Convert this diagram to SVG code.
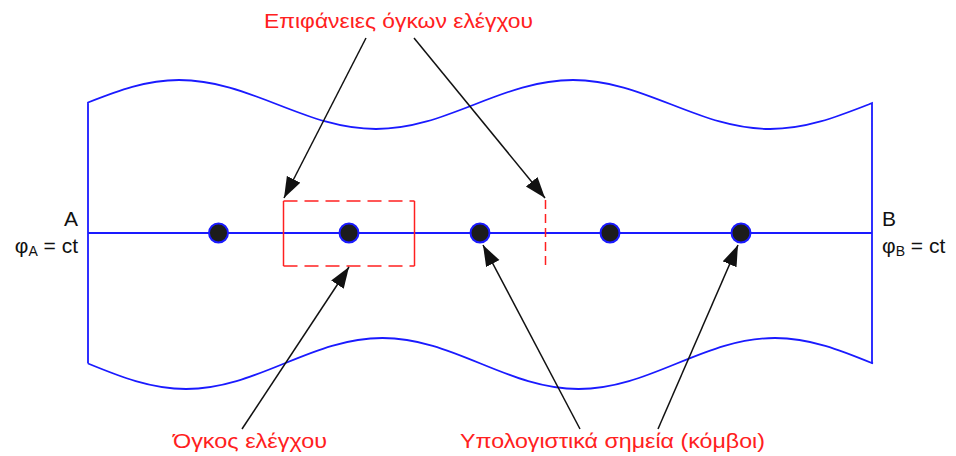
<svg xmlns="http://www.w3.org/2000/svg" width="956" height="456" viewBox="0 0 956 456">
<style>
.blue{fill:none;stroke:#1a1aff;stroke-width:1.8}
.node circle{fill:#1c1c1c;stroke:#1a1aff;stroke-width:2}
.red{fill:none;stroke:#ff2020;stroke-width:1.5}
.arr{fill:none;stroke:#111;stroke-width:1.5;marker-end:url(#ah)}
.lbl{font-family:"Liberation Sans",Arial,sans-serif;font-size:21px;fill:#111}
.ann{font-family:"Liberation Sans",Arial,sans-serif;font-size:21px;fill:#ff2020}
</style>
<defs>
<marker id="ah" markerUnits="userSpaceOnUse" markerWidth="22" markerHeight="16" refX="21" refY="7.5" orient="auto">
<path d="M0,0 L21,7.5 L0,15 z" fill="#111"/>
</marker>
</defs>
<g id="domain">
<path class="blue" d="M88,363.5 L88,102.5 C117.7,90.9 146,80 179,80 C214.6,80 245.4,91.95 277.5,104.5 C309.6,117.05 340.35,129 376,129 C411.65,129 442.4,117.05 474.5,104.5 C506.6,91.95 537.35,80 573,80 C608.65,80 639.4,91.95 671.5,104.5 C703.6,117.05 734.35,129 770,129 C805.65,129 836.4,117.05 868.5,104.5 L872,103 L872,363.5"/>
<path class="blue" d="M88,363.5 C120,376.6 150.6,389 186.1,389 C221.6,389 252.2,376.6 284.25,363.5 C316.25,350.4 346.85,338 382.4,338 C417.9,338 448.5,350.4 480.5,363.5 C512.5,376.6 543.1,389 578.6,389 C614.1,389 644.7,376.6 676.75,363.5 C708.75,350.4 739.35,338 774.9,338 C810.4,338 841,350.4 873,363.5"/>
<line class="blue" x1="88" y1="233" x2="872" y2="233"/>
</g>
<g id="labelA">
<text class="lbl" x="78" y="226" text-anchor="end">A</text>
<text class="lbl" x="78" y="253" text-anchor="end">φ<tspan font-size="14" dy="3">A</tspan><tspan dy="-3"> = ct</tspan></text>
</g>
<g id="labelB">
<text class="lbl" x="882" y="226">B</text>
<text class="lbl" x="882" y="253">φ<tspan font-size="14" dy="3">B</tspan><tspan dy="-3"> = ct</tspan></text>
</g>
<g id="control-volume">
<line class="red" x1="283.5" y1="201" x2="283.5" y2="266"/>
<line class="red" x1="414.5" y1="201" x2="414.5" y2="266"/>
<line class="red" x1="283.5" y1="201" x2="414.5" y2="201" stroke-dasharray="14 7"/>
<line class="red" x1="283.5" y1="266" x2="414.5" y2="266" stroke-dasharray="14 7"/>
</g>
<g id="face">
<line class="red" x1="545.5" y1="200" x2="545.5" y2="267" stroke-dasharray="9 5"/>
</g>
<g id="nodes" class="node">
<circle id="n1" cx="218.5" cy="233" r="9.5"/>
<circle id="n2" cx="349" cy="233" r="9.5"/>
<circle id="n3" cx="480" cy="233" r="9.5"/>
<circle id="n4" cx="610" cy="233" r="9.5"/>
<circle id="n5" cx="741" cy="233" r="9.5"/>
</g>
<g id="connectors">
<line class="arr" x1="366" y1="38" x2="284" y2="198"/>
<line class="arr" x1="414" y1="38" x2="545" y2="198"/>
<line class="arr" x1="242" y1="429" x2="349" y2="267"/>
<line class="arr" x1="580" y1="429" x2="483" y2="245"/>
<line class="arr" x1="658" y1="429" x2="738" y2="245"/>
</g>
<g id="annotations">
<text class="ann" x="264" y="28" textLength="269" lengthAdjust="spacingAndGlyphs">Επιφάνειες όγκων ελέγχου</text>
<text class="ann" x="173" y="448" textLength="154" lengthAdjust="spacingAndGlyphs">Όγκος ελέγχου</text>
<text class="ann" x="460" y="448" textLength="305" lengthAdjust="spacingAndGlyphs">Υπολογιστικά σημεία (κόμβοι)</text>
</g>
</svg>
